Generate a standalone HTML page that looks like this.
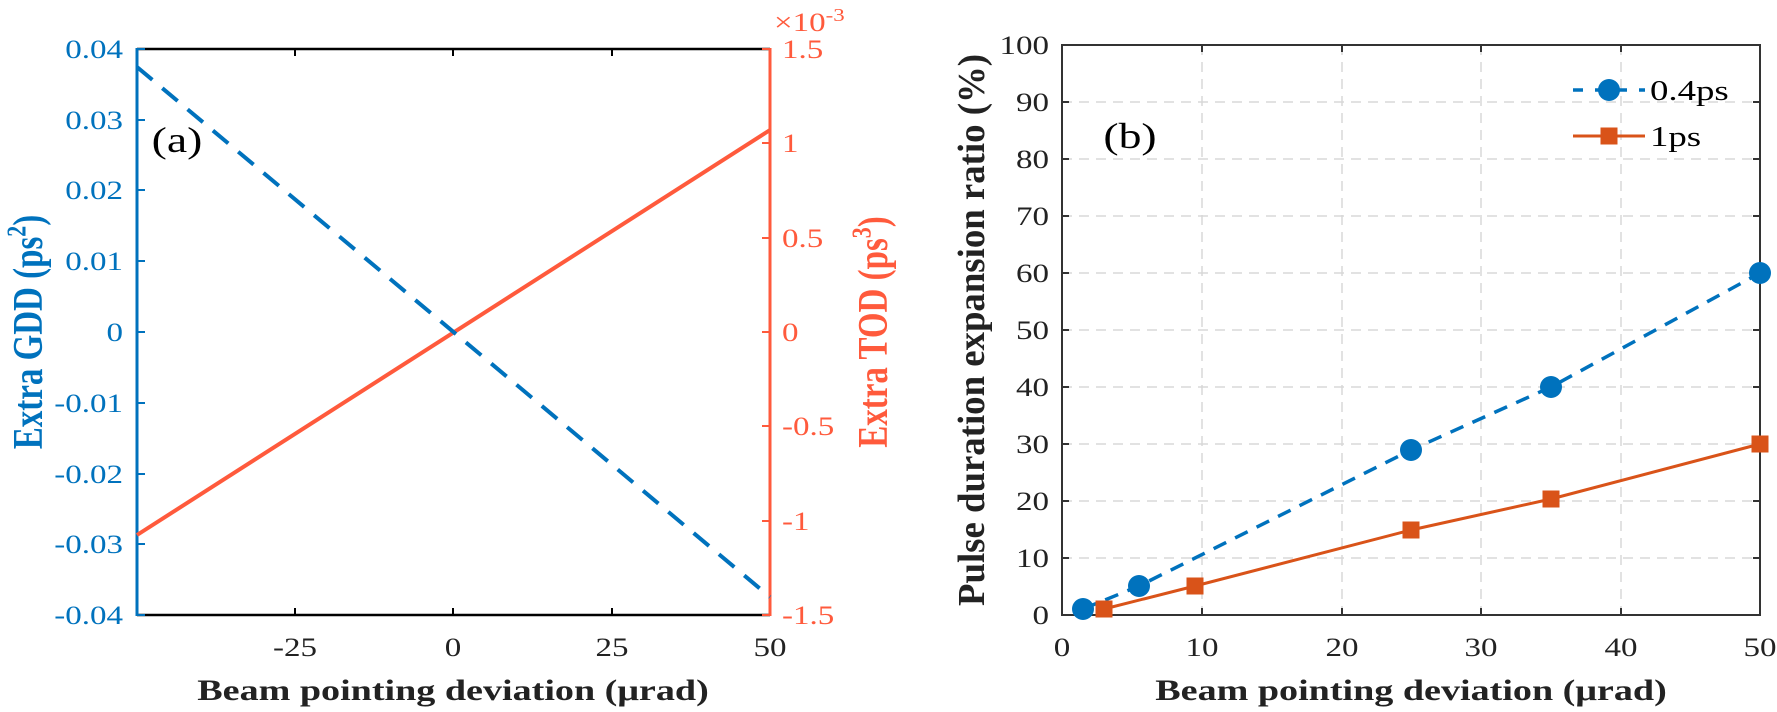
<!DOCTYPE html>
<html><head><meta charset="utf-8"><style>
html,body{margin:0;padding:0;background:#fff;}
svg{display:block;}
text{font-family:"Liberation Serif","Times New Roman",serif;}
</style></head><body>
<svg width="1777" height="712" viewBox="0 0 1777 712" xmlns="http://www.w3.org/2000/svg">
<g>
  <line x1="137" y1="49" x2="770" y2="49" stroke="#000" stroke-width="2.5"/>
  <line x1="137" y1="615" x2="770" y2="615" stroke="#000" stroke-width="2.5"/>
  <g stroke="#000" stroke-width="2">
    <line x1="295" y1="49" x2="295" y2="56"/><line x1="453" y1="49" x2="453" y2="56"/><line x1="612" y1="49" x2="612" y2="56"/>
    <line x1="295" y1="615" x2="295" y2="608"/><line x1="453" y1="615" x2="453" y2="608"/><line x1="612" y1="615" x2="612" y2="608"/>
  </g>
  <line x1="137" y1="48" x2="137" y2="616" stroke="#0072BD" stroke-width="3"/>
  <g stroke="#0072BD" stroke-width="2">
    <line x1="137" y1="49" x2="145" y2="49"/><line x1="137" y1="120" x2="145" y2="120"/><line x1="137" y1="190" x2="145" y2="190"/>
    <line x1="137" y1="261" x2="145" y2="261"/><line x1="137" y1="332" x2="145" y2="332"/><line x1="137" y1="403" x2="145" y2="403"/>
    <line x1="137" y1="474" x2="145" y2="474"/><line x1="137" y1="544" x2="145" y2="544"/><line x1="137" y1="615" x2="145" y2="615"/>
  </g>
  <line x1="770" y1="48" x2="770" y2="616" stroke="#FF5A3C" stroke-width="3"/>
  <g stroke="#FF5A3C" stroke-width="2">
    <line x1="762" y1="49" x2="770" y2="49"/><line x1="762" y1="143" x2="770" y2="143"/><line x1="762" y1="238" x2="770" y2="238"/>
    <line x1="762" y1="332" x2="770" y2="332"/><line x1="762" y1="426" x2="770" y2="426"/><line x1="762" y1="521" x2="770" y2="521"/>
    <line x1="762" y1="615" x2="770" y2="615"/>
  </g>
  <line x1="137" y1="535" x2="770" y2="130" stroke="#FF5A3C" stroke-width="4"/>
  <line x1="137" y1="67" x2="770" y2="597" stroke="#0072BD" stroke-width="4" stroke-dasharray="20,13"/>
  <g fill="#0072BD" font-size="26" text-anchor="end">
    <text transform="translate(123,58) scale(1.27,1)">0.04</text>
    <text transform="translate(123,129) scale(1.27,1)">0.03</text>
    <text transform="translate(123,199) scale(1.27,1)">0.02</text>
    <text transform="translate(123,270) scale(1.27,1)">0.01</text>
    <text transform="translate(123,341) scale(1.27,1)">0</text>
    <text transform="translate(123,412) scale(1.27,1)">-0.01</text>
    <text transform="translate(123,483) scale(1.27,1)">-0.02</text>
    <text transform="translate(123,553) scale(1.27,1)">-0.03</text>
    <text transform="translate(123,624) scale(1.27,1)">-0.04</text>
  </g>
  <g fill="#FF5A3C" font-size="26" text-anchor="start">
    <text transform="translate(782,58) scale(1.27,1)">1.5</text>
    <text transform="translate(782,152) scale(1.27,1)">1</text>
    <text transform="translate(782,247) scale(1.27,1)">0.5</text>
    <text transform="translate(782,341) scale(1.27,1)">0</text>
    <text transform="translate(782,435) scale(1.27,1)">-0.5</text>
    <text transform="translate(782,530) scale(1.27,1)">-1</text>
    <text transform="translate(782,624) scale(1.27,1)">-1.5</text>
    <text transform="translate(774,31) scale(1.27,1)">×10<tspan font-size="18" dy="-10">-3</tspan></text>
  </g>
  <g fill="#222" font-size="26" text-anchor="middle">
    <text transform="translate(295,656) scale(1.27,1)">-25</text>
    <text transform="translate(453,656) scale(1.27,1)">0</text>
    <text transform="translate(612,656) scale(1.27,1)">25</text>
    <text transform="translate(770,656) scale(1.27,1)">50</text>
  </g>
  <text transform="translate(453,700) scale(1.27,1)" font-size="30" font-weight="bold" fill="#222" text-anchor="middle">Beam pointing deviation (μrad)</text>
  <text transform="translate(177,152) scale(1.27,1)" font-size="36" fill="#000" text-anchor="middle">(a)</text>
  <text transform="translate(42,332) scale(1.27,1) rotate(-90)" font-size="33" font-weight="bold" fill="#0072BD" text-anchor="middle">Extra GDD (ps<tspan font-size="22" dy="-13">2</tspan><tspan dy="13">)</tspan></text>
  <text transform="translate(887,332) scale(1.27,1) rotate(-90)" font-size="33" font-weight="bold" fill="#FF5A3C" text-anchor="middle">Extra TOD (ps<tspan font-size="22" dy="-13">3</tspan><tspan dy="13">)</tspan></text>
</g>

<g>
  <g stroke="#d8d8d8" stroke-width="1.5" stroke-dasharray="10,7">
    <line x1="1202" y1="45" x2="1202" y2="615"/><line x1="1342" y1="45" x2="1342" y2="615"/>
    <line x1="1481" y1="45" x2="1481" y2="615"/><line x1="1621" y1="45" x2="1621" y2="615"/>
    <line x1="1062" y1="102" x2="1760" y2="102"/><line x1="1062" y1="159" x2="1760" y2="159"/>
    <line x1="1062" y1="216" x2="1760" y2="216"/><line x1="1062" y1="273" x2="1760" y2="273"/>
    <line x1="1062" y1="330" x2="1760" y2="330"/><line x1="1062" y1="387" x2="1760" y2="387"/>
    <line x1="1062" y1="444" x2="1760" y2="444"/><line x1="1062" y1="501" x2="1760" y2="501"/>
    <line x1="1062" y1="558" x2="1760" y2="558"/>
  </g>
  <rect x="1062" y="45" width="698" height="570" fill="none" stroke="#333" stroke-width="2"/>
  <g stroke="#333" stroke-width="2">
    <line x1="1202" y1="615" x2="1202" y2="608"/><line x1="1342" y1="615" x2="1342" y2="608"/>
    <line x1="1481" y1="615" x2="1481" y2="608"/><line x1="1621" y1="615" x2="1621" y2="608"/>
    <line x1="1202" y1="45" x2="1202" y2="52"/><line x1="1342" y1="45" x2="1342" y2="52"/>
    <line x1="1481" y1="45" x2="1481" y2="52"/><line x1="1621" y1="45" x2="1621" y2="52"/>
    <line x1="1062" y1="102" x2="1069" y2="102"/><line x1="1062" y1="159" x2="1069" y2="159"/><line x1="1062" y1="216" x2="1069" y2="216"/>
    <line x1="1062" y1="273" x2="1069" y2="273"/><line x1="1062" y1="330" x2="1069" y2="330"/><line x1="1062" y1="387" x2="1069" y2="387"/>
    <line x1="1062" y1="444" x2="1069" y2="444"/><line x1="1062" y1="501" x2="1069" y2="501"/><line x1="1062" y1="558" x2="1069" y2="558"/>
    <line x1="1760" y1="102" x2="1753" y2="102"/><line x1="1760" y1="159" x2="1753" y2="159"/><line x1="1760" y1="216" x2="1753" y2="216"/>
    <line x1="1760" y1="273" x2="1753" y2="273"/><line x1="1760" y1="330" x2="1753" y2="330"/><line x1="1760" y1="387" x2="1753" y2="387"/>
    <line x1="1760" y1="444" x2="1753" y2="444"/><line x1="1760" y1="501" x2="1753" y2="501"/><line x1="1760" y1="558" x2="1753" y2="558"/>
  </g>
  <polyline points="1083,609 1139,586 1411,450 1551,387 1760,273" fill="none" stroke="#0072BD" stroke-width="3.5" stroke-dasharray="14,10"/>
  <g fill="#0072BD">
    <circle cx="1083" cy="609" r="11"/><circle cx="1139" cy="586" r="11"/><circle cx="1411" cy="450" r="11"/>
    <circle cx="1551" cy="387" r="11"/><circle cx="1760" cy="273" r="11"/>
  </g>
  <polyline points="1104,609 1195,586 1411,530 1551,499 1760,444" fill="none" stroke="#D95319" stroke-width="3"/>
  <g fill="#D95319">
    <rect x="1095.5" y="600.5" width="17" height="17"/><rect x="1186.5" y="577.5" width="17" height="17"/>
    <rect x="1402.5" y="521.5" width="17" height="17"/><rect x="1542.5" y="490.5" width="17" height="17"/>
    <rect x="1751.5" y="435.5" width="17" height="17"/>
  </g>
  <line x1="1573" y1="90" x2="1645" y2="90" stroke="#0072BD" stroke-width="3.5" stroke-dasharray="10,12"/>
  <circle cx="1609" cy="90" r="11" fill="#0072BD"/>
  <line x1="1573" y1="136" x2="1645" y2="136" stroke="#D95319" stroke-width="3"/>
  <rect x="1600.5" y="127.5" width="17" height="17" fill="#D95319"/>
  <g font-size="29" fill="#000">
    <text transform="translate(1650,100) scale(1.27,1)">0.4ps</text>
    <text transform="translate(1650,146) scale(1.27,1)">1ps</text>
  </g>
  <g fill="#222" font-size="26" text-anchor="end">
    <text transform="translate(1049,54) scale(1.27,1)">100</text>
    <text transform="translate(1049,111) scale(1.27,1)">90</text>
    <text transform="translate(1049,168) scale(1.27,1)">80</text>
    <text transform="translate(1049,225) scale(1.27,1)">70</text>
    <text transform="translate(1049,282) scale(1.27,1)">60</text>
    <text transform="translate(1049,339) scale(1.27,1)">50</text>
    <text transform="translate(1049,396) scale(1.27,1)">40</text>
    <text transform="translate(1049,453) scale(1.27,1)">30</text>
    <text transform="translate(1049,510) scale(1.27,1)">20</text>
    <text transform="translate(1049,567) scale(1.27,1)">10</text>
    <text transform="translate(1049,624) scale(1.27,1)">0</text>
  </g>
  <g fill="#222" font-size="26" text-anchor="middle">
    <text transform="translate(1062,656) scale(1.27,1)">0</text>
    <text transform="translate(1202,656) scale(1.27,1)">10</text>
    <text transform="translate(1342,656) scale(1.27,1)">20</text>
    <text transform="translate(1481,656) scale(1.27,1)">30</text>
    <text transform="translate(1621,656) scale(1.27,1)">40</text>
    <text transform="translate(1760,656) scale(1.27,1)">50</text>
  </g>
  <text transform="translate(1411,700) scale(1.27,1)" font-size="30" font-weight="bold" fill="#222" text-anchor="middle">Beam pointing deviation (μrad)</text>
  <text transform="translate(1130,148) scale(1.27,1)" font-size="36" fill="#000" text-anchor="middle">(b)</text>
  <text transform="translate(984,330) scale(1.27,1) rotate(-90)" font-size="30" font-weight="bold" fill="#222" text-anchor="middle" textLength="552" lengthAdjust="spacingAndGlyphs">Pulse duration expansion ratio (%)</text>
</g>
</svg>
</body></html>
